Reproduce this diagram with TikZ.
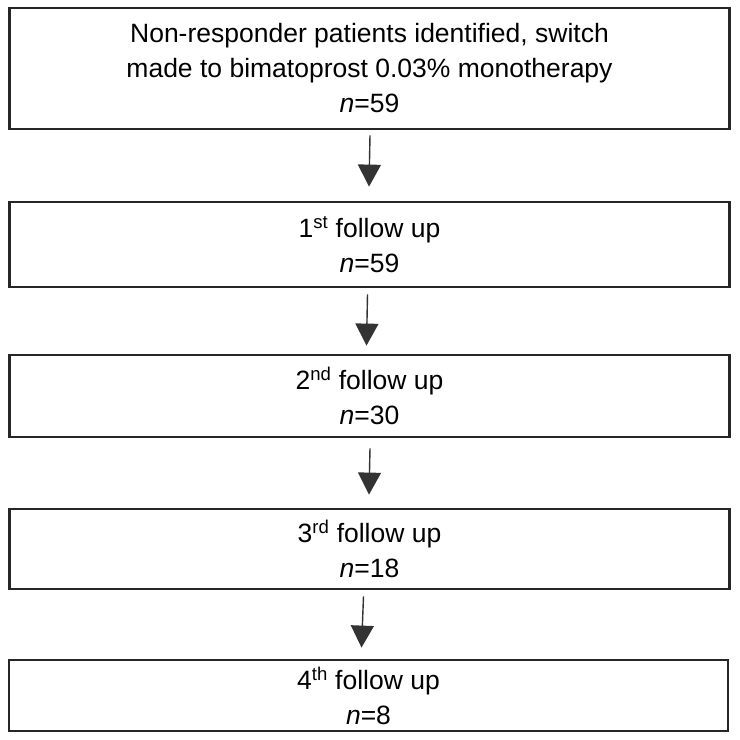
\documentclass[tikz,border=0pt]{standalone}
\usepackage{fontspec}
\setmainfont{Liberation Sans}
\usetikzlibrary{arrows.meta}
\begin{document}
\begin{tikzpicture}[x=1pt,y=-1pt,
  fbox/.style={draw=black!85, line width=2.8pt, inner sep=0pt, align=center,
    font=\fontsize{26.5}{35}\selectfont, minimum width=720pt},
  arr/.style={draw=black!80, line width=1.4pt, -{Triangle[width=23pt,length=22pt]}}]
\useasboundingbox (0,0) rectangle (740,740);
\node[fbox, minimum height=121pt] (b1) at (369.5,68.5)
  {Non-responder patients identified, switch\\made to bimatoprost 0.03\% monotherapy\\\textit{n}=59};
\node[fbox, minimum height=85pt] (b2) at (369.5,244.5)
  {1\textsuperscript{st} follow up\\\textit{n}=59};
\node[fbox, minimum height=82pt] (b3) at (369.5,396)
  {2\textsuperscript{nd} follow up\\\textit{n}=30};
\node[fbox, minimum height=80pt] (b4) at (369.5,549)
  {3\textsuperscript{rd} follow up\\\textit{n}=18};
\node[fbox, minimum height=71pt, minimum width=719pt] (b5) at (368.5,695.5)
  {4\textsuperscript{th} follow up\\\textit{n}=8};
\draw[arr] ([xshift=0.5pt,yshift=-5pt]b1.south) -- ([xshift=-0.5pt,yshift=14pt]b2.north);
\draw[arr] ([xshift=-2pt,yshift=-6pt]b2.south) -- ([xshift=-3pt,yshift=8pt]b3.north);
\draw[arr] ([xshift=0.5pt,yshift=-10pt]b3.south) -- ([xshift=-0.5pt,yshift=13pt]b4.north);
\draw[arr] ([xshift=-6pt,yshift=-6pt]b4.south) -- ([xshift=-7pt,yshift=11pt]b5.north);
\end{tikzpicture}
\end{document}
